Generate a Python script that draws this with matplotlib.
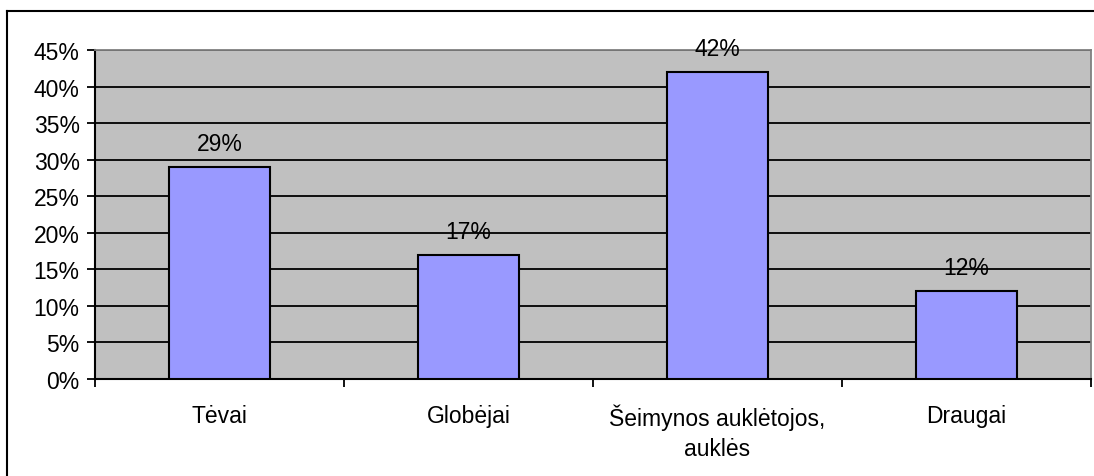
import matplotlib.pyplot as plt
import matplotlib.ticker as mticker
from matplotlib.lines import Line2D

plt.rcParams['font.family'] = ['Liberation Sans', 'DejaVu Sans']

# duomenys
categories = ['Tėvai', 'Globėjai', 'Šeimynos auklėtojos,\nauklės', 'Draugai']
values = [0.29, 0.17, 0.42, 0.12]
labels = ['29%', '17%', '42%', '12%']

W, H = 1094, 477
fig = plt.figure(figsize=(W / 100, H / 100), dpi=100)

# plot area in pixels
left, right, top, bottom = 95, 1091, 51, 380
ax = fig.add_axes([left / W, 1 - bottom / H, (right - left) / W, (bottom - top) / H])
ax.set_facecolor('#c0c0c0')

x = list(range(len(categories)))
ax.bar(x, values, width=0.405, color='#9999ff', edgecolor='black', linewidth=1.5, zorder=3)

for xi, v, lab in zip(x, values, labels):
    ax.annotate(lab, (xi, v), xytext=(0, 17), textcoords='offset points',
                ha='center', va='center', fontsize=16.5, zorder=4)

ax.set_xlim(-0.5, len(categories) - 0.5)
ax.set_ylim(0, 0.45)
ax.yaxis.set_major_locator(mticker.MultipleLocator(0.05))
ax.yaxis.set_major_formatter(mticker.FuncFormatter(lambda v, p: f'{v * 100:.0f}%'))
ax.grid(axis='y', color='black', linewidth=1.3, zorder=1)

# kategorijų ribos kaip žymės, pavadinimai per vidurį
ax.set_xticks([i - 0.5 for i in range(len(categories) + 1)])
ax.set_xticklabels([])
ax.set_xticks(x, minor=True)
ax.set_xticklabels(categories, minor=True, fontsize=16.5, linespacing=1.35, va='top')
ax.tick_params(axis='x', which='major', direction='out', length=6, width=1.3)
ax.tick_params(axis='x', which='minor', length=0, pad=18)
ax.tick_params(axis='y', direction='out', length=6, width=1.3, labelsize=16.5, pad=5)

for s in ['top', 'right']:
    ax.spines[s].set_color('#808080')
    ax.spines[s].set_linewidth(1.3)
for s in ['left', 'bottom']:
    ax.spines[s].set_color('black')
    ax.spines[s].set_linewidth(1.5)

# rėmelis aplink diagramą
fig.add_artist(Line2D([7 / W, 1], [1 - 12 / H, 1 - 12 / H], color='black', linewidth=1.5))
fig.add_artist(Line2D([7 / W, 7 / W], [0, 1 - 12 / H], color='black', linewidth=1.5))

fig.savefig('out.png', dpi=100)
